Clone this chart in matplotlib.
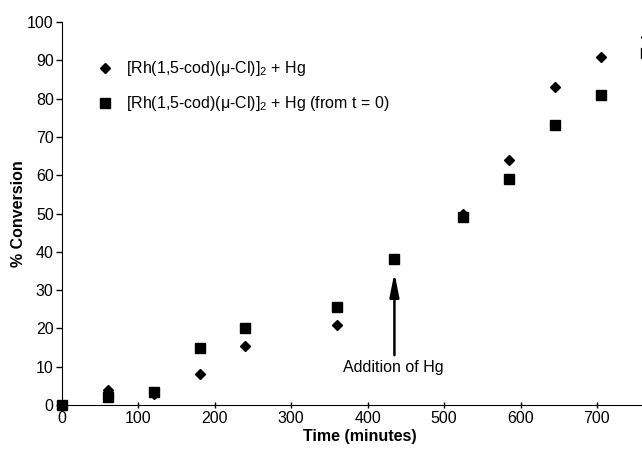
import matplotlib
matplotlib.use("Agg")
import matplotlib.pyplot as plt

plt.rcParams['font.family'] = ['Liberation Sans', 'DejaVu Sans']
plt.rcParams['mathtext.default'] = 'regular'

# data
time_hg = [0, 60, 120, 180, 240, 360, 525, 585, 645, 705, 764]
conv_hg = [0, 4, 3, 8, 15.5, 21, 50, 64, 83, 91, 96]

time_t0 = [0, 60, 120, 180, 240, 360, 435, 525, 585, 645, 705, 764]
conv_t0 = [0, 2, 3.5, 15, 20, 25.5, 38, 49, 59, 73, 81, 92]

x_ticks = [0, 100, 200, 300, 400, 500, 600, 700]
y_ticks = list(range(0, 101, 10))

label_hg = '[Rh(1,5-cod)(\u03bc-Cl)]$_2$ + Hg'
label_t0 = '[Rh(1,5-cod)(\u03bc-Cl)]$_2$ + Hg (from t = 0)'

fig = plt.figure(figsize=(6.42, 4.51), dpi=100)
# axes run past the right edge of the figure, as in the cropped original
ax = fig.add_axes([0.0966, 0.102, 1.025 - 0.0966, 0.951 - 0.102])

ax.plot(time_hg, conv_hg, 'D', color='black', markersize=5, label=label_hg,
        clip_on=False, zorder=3)
ax.plot(time_t0, conv_t0, 's', color='black', markersize=6.5, label=label_t0,
        clip_on=False, zorder=3)

ax.set_xlim(0, 780)
ax.set_ylim(0, 100)
ax.set_xticks(x_ticks)
ax.set_yticks(y_ticks)
ax.tick_params(labelsize=11.5, width=1, pad=2)
ax.tick_params(axis='y', length=4)
ax.tick_params(axis='x', direction='inout', length=5)
for s in ['top', 'right']:
    ax.spines[s].set_visible(False)

ax.set_xlabel('Time (minutes)', fontsize=11.5, fontweight='bold', labelpad=2)
ax.set_ylabel('% Conversion', fontsize=11.5, fontweight='bold', labelpad=1)

# arrow marking the Hg addition
ax.annotate('', xy=(435, 34.5), xytext=(435, 13),
            arrowprops=dict(arrowstyle='-|>,head_length=1.0,head_width=0.2',
                            color='black', lw=1.8,
                            mutation_scale=14, shrinkA=0, shrinkB=0))
ax.text(433, 9.7, 'Addition of Hg', fontsize=11.5, ha='center', va='center')

ax.legend(loc='upper left', bbox_to_anchor=(0.035, 0.94), frameon=False,
          fontsize=11.5, handletextpad=0.8, labelspacing=1.0, handlelength=1)

fig.savefig('out.png', dpi=100)
